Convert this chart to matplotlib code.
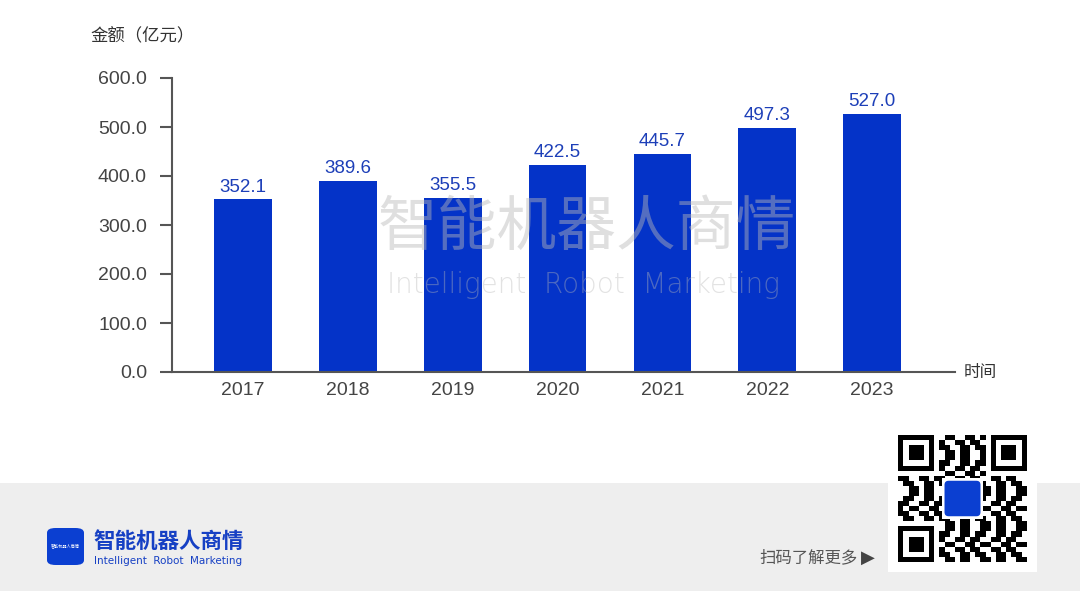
import matplotlib
matplotlib.use("Agg")
import matplotlib.pyplot as plt
from matplotlib.patches import Rectangle, FancyBboxPatch
import numpy as np

plt.rcParams['font.family'] = ['Liberation Sans', 'Noto Sans CJK SC', 'DejaVu Sans']

years = ["2017", "2018", "2019", "2020", "2021", "2022", "2023"]
amounts = [352.1, 389.6, 355.5, 422.5, 445.7, 497.3, 527.0]
y_ticks = [0, 100, 200, 300, 400, 500, 600]

W, H = 1080, 591
bar_color = "#0433c8"
label_color = "#1d3fb8"
text_gray = "#444444"

fig = plt.figure(figsize=(W / 100, H / 100), dpi=100)
fig.patch.set_facecolor("white")

# footer band
band = Rectangle((0, 0), 1, (H - 483) / H, transform=fig.transFigure,
                 facecolor="#eeeeee", edgecolor="none", zorder=-5)
fig.patches.append(band)

ax = fig.add_axes([172 / W, (H - 372) / H, (955 - 172) / W, (372 - 78) / H])
ax.set_facecolor("none")
x = np.arange(len(years))
ax.bar(x, amounts, width=0.55, color=bar_color, zorder=2)
for xi, v in zip(x, amounts):
    ax.text(xi, v + 8, f"{v:.1f}", ha="center", va="bottom", fontsize=13.5,
            color=label_color, zorder=3)

ax.set_xlim(-0.677, 6.79)
ax.set_ylim(0, 600)
ax.set_xticks(x)
ax.set_xticklabels(years, fontsize=14, color=text_gray)
ax.set_yticks(y_ticks)
ax.set_yticklabels([f"{t:.1f}" for t in y_ticks], fontsize=14, color=text_gray)
ax.tick_params(axis="x", length=0, pad=7)
ax.tick_params(axis="y", length=9, width=1.5, color="#555555", pad=9)
for s in ["top", "right"]:
    ax.spines[s].set_visible(False)
for s in ["left", "bottom"]:
    ax.spines[s].set_color("#555555")
    ax.spines[s].set_linewidth(1.5)

fig.text(90 / W, (H - 36) / H, "金额（亿元）", fontsize=12.5, color="#333333",
         va="center", ha="left")
fig.text(964 / W, (H - 372) / H, "时间", fontsize=12, color="#333333",
         va="center", ha="left")

# watermark
fig.text(587 / W, (H - 228) / H, "智能机器人商情", fontsize=43, color="#b8b8b8",
         alpha=0.45, ha="center", va="center", zorder=5,
         family=['Noto Sans CJK SC'])
fig.text(583 / W, (H - 285) / H, "Intelligent  Robot  Marketing", fontsize=20,
         color="#b8b8b8", alpha=0.4, ha="center", va="center", zorder=5,
         family=['DejaVu Sans'], fontweight="light")

# footer logo
fig.patches.append(FancyBboxPatch((47 / W, (H - 565) / H), 37 / W, 37 / H,
                                  boxstyle="round,pad=0,rounding_size=0.008",
                                  transform=fig.transFigure, facecolor="#0b3fd1",
                                  edgecolor="none"))
fig.text(65.5 / W, (H - 546) / H, "智能机器人商情", fontsize=3, color="white",
         ha="center", va="center", family=['Noto Sans CJK SC'])
fig.text(93 / W, (H - 541) / H, "智能机器人商情", fontsize=15.5, color="#1640c4",
         ha="left", va="center", fontweight="bold", family=['Noto Sans CJK SC'])
fig.text(94 / W, (H - 561) / H, "Intelligent  Robot  Marketing", fontsize=7.5,
         color="#1640c4", ha="left", va="center", family=['DejaVu Sans'])

fig.text(759 / W, (H - 558) / H, "扫码了解更多", fontsize=11.8, color="#555555",
         ha="left", va="center", family=['Noto Sans CJK SC'])
fig.text(861 / W, (H - 558) / H, "▶", fontsize=13, color="#444444",
         ha="left", va="center", family=['DejaVu Sans'])

# QR-like block
qax = fig.add_axes([888 / W, (H - 572) / H, 149 / W, 147 / H], zorder=3)
qax.set_xlim(0, 29)
qax.set_ylim(29, 0)
qax.axis("off")
qax.add_patch(Rectangle((0, 0), 29, 29, facecolor="white", edgecolor="none"))
n = 25
off = 2
for i in range(n):
    for j in range(n):
        in_finder = (i < 8 and j < 8) or (i < 8 and j >= n - 8) or (i >= n - 8 and j < 8)
        if in_finder:
            continue
        if ((i * i * 3 + j * 5 + i * j * 7) % 7) < 4:
            qax.add_patch(Rectangle((off + j, off + i), 1, 1, facecolor="black",
                                    edgecolor="none"))
for (r, c) in [(0, 0), (0, n - 7), (n - 7, 0)]:
    qax.add_patch(Rectangle((off + c, off + r), 7, 7, facecolor="black", edgecolor="none"))
    qax.add_patch(Rectangle((off + c + 1, off + r + 1), 5, 5, facecolor="white", edgecolor="none"))
    qax.add_patch(Rectangle((off + c + 2, off + r + 2), 3, 3, facecolor="black", edgecolor="none"))
qax.add_patch(Rectangle((10.5, 10.5), 8, 8, facecolor="white", edgecolor="none"))
qax.add_patch(FancyBboxPatch((11, 11), 7, 7, boxstyle="round,pad=0,rounding_size=0.8",
                             facecolor="#0b3fd1", edgecolor="none"))

fig.savefig("out.png", dpi=100)
